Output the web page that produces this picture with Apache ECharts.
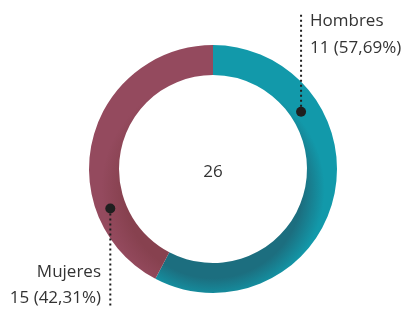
<!DOCTYPE html>
<html>
<head>
<meta charset="utf-8">
<script src="https://cdn.jsdelivr.net/npm/echarts@6/dist/echarts.min.js"></script>
<style>
  html, body { margin: 0; padding: 0; background: #fff; }
  #main { width: 403px; height: 311px; }
</style>
</head>
<body>
<div id="main"></div>
<script>
// datos
var categorias = ['Hombres', 'Mujeres'];
var valores = [15, 11];
var etiquetas = ['11 (57,69%)', '15 (42,31%)'];
var total = '26';
// donde cae el punto de cada etiqueta (grados desde arriba, radio en px)
var anguloPunto = [57, 249];
var radioPunto = [105, 110];

var cx = 213, cy = 169;
var colores = ['#1299aa', '#944a5e'];
var sombras = ['#1c6e7f', '#87414f'];

function puntoDe(i) {
    var a = anguloPunto[i] * Math.PI / 180;
    return [cx + radioPunto[i] * Math.sin(a), cy - radioPunto[i] * Math.cos(a)];
}

var datos = [];
for (var i = 0; i < categorias.length; i++) {
    datos.push({
        name: categorias[i],
        value: valores[i],
        itemStyle: {
            color: {
                type: 'radial', x: cx, y: cy + 20, r: 124, global: true,
                colorStops: [
                    { offset: 0.72, color: sombras[i] },
                    { offset: 0.9, color: colores[i] },
                    { offset: 1, color: colores[i] }
                ]
            }
        }
    });
}

var fuente = '17px "Open Sans"';
var p0 = puntoDe(0), p1 = puntoDe(1);
var linea = { stroke: '#1f1f1f', lineWidth: 2, lineDash: [2, 3] };

var myChart = echarts.init(document.getElementById('main'));
var option = {
    animation: false,
    graphic: [
        // Hombres
        { type: 'line', shape: { x1: p0[0], y1: p0[1], x2: p0[0], y2: 12 }, style: linea, z: 99 },
        { type: 'circle', shape: { cx: p0[0], cy: p0[1], r: 5 }, style: { fill: '#1f1f1f' }, z: 100 },
        { type: 'text', x: 310, y: 21, style: { text: categorias[0], font: fuente, fill: '#333', align: 'left', verticalAlign: 'middle' } },
        { type: 'text', x: 310, y: 48, style: { text: etiquetas[0], font: fuente, fill: '#333', align: 'left', verticalAlign: 'middle' } },
        // Mujeres
        { type: 'line', shape: { x1: p1[0], y1: p1[1], x2: p1[0], y2: 306 }, style: linea, z: 99 },
        { type: 'circle', shape: { cx: p1[0], cy: p1[1], r: 5 }, style: { fill: '#1f1f1f' }, z: 100 },
        { type: 'text', x: 101, y: 272, style: { text: categorias[1], font: fuente, fill: '#333', align: 'right', verticalAlign: 'middle' } },
        { type: 'text', x: 101, y: 298, style: { text: etiquetas[1], font: fuente, fill: '#333', align: 'right', verticalAlign: 'middle' } },
        // total
        {
            type: 'text', x: cx, y: cy + 3, z: 100,
            style: { text: total, font: '17px "Open Sans"', fill: '#333', align: 'center', verticalAlign: 'middle' }
        }
    ],
    series: [{
        type: 'pie',
        center: [cx, cy],
        radius: [94, 124],
        startAngle: 90,
        clockwise: true,
        silent: true,
        data: datos,
        label: { show: false },
        labelLine: { show: false }
    }]
};
myChart.setOption(option);
</script>
</body>
</html>
